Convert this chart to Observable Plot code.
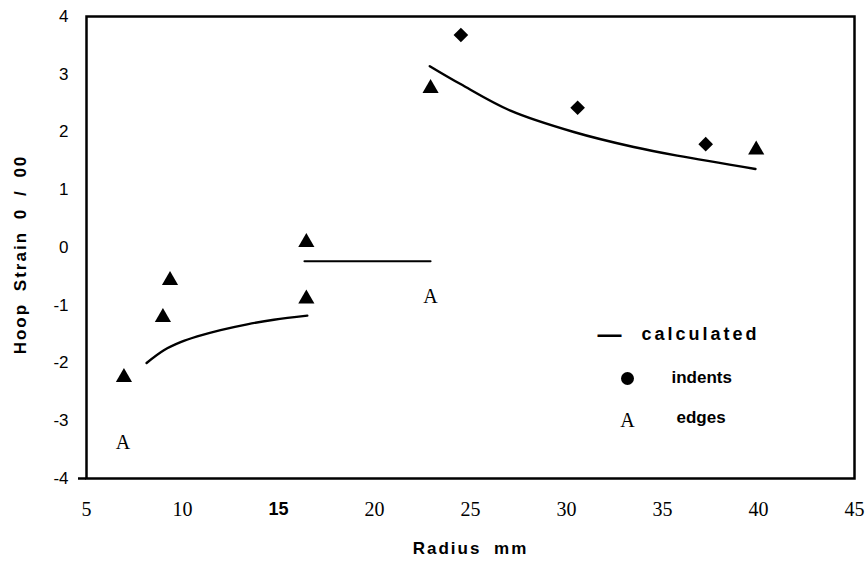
<!DOCTYPE html>
<html>
<head>
<meta charset="utf-8">
<script src="https://cdn.jsdelivr.net/npm/d3@7"></script>
<script src="https://cdn.jsdelivr.net/npm/@observablehq/plot@0.6"></script>
<style>
  body { margin: 0; background: #fff; }
  #chart svg { display: block; background: #fff; color: #000; }
</style>
</head>
<body>
<div id="chart"></div>
<script>
// Radius (mm) / hoop strain (0/00)
const edgesR = [6.95, 8.98, 9.35, 16.45, 16.45, 22.92, 39.88];
const edgesV = [-2.25, -1.21, -0.57, 0.09, -0.89, 2.755, 1.69];

const indentsR = [24.5, 30.58, 37.25];
const indentsV = [3.68, 2.42, 1.79];

// "A" glyph markers (edge points rendered as letters)
const edgesAR = [6.9, 22.92];
const edgesAV = [-3.38, -0.85];

// calculated curves
const calc1R = [8.13, 9.03, 9.9, 10.77, 11.98, 13.37, 14.76, 16.5];
const calc1V = [-2.0, -1.78, -1.64, -1.54, -1.43, -1.33, -1.25, -1.18];
const calc2R = [16.35, 22.92];
const calc2V = [-0.24, -0.24];
const calc3R = [22.88, 24.48, 27.08, 30.38, 33.5, 35.77, 39.84];
const calc3V = [3.14, 2.83, 2.37, 2.0, 1.74, 1.59, 1.36];

const xTicksSerif = [5, 10, 20, 25, 30, 35, 40, 45];
const xTicksBold = [15];
const yTicks = [-4, -3, -2, -1, 0, 1, 2, 3, 4];

const xLabel = "Radius mm";
const yLabel = "Hoop Strain 0 / 00";
const legendCalc = "calculated";
const legendIndents = "indents";
const legendEdges = "edges";

const zip = (xs, ys) => xs.map((x, i) => ({r: x, v: ys[i]}));
const edges = zip(edgesR, edgesV);
const indents = zip(indentsR, indentsV);
const edgesA = zip(edgesAR, edgesAV);
const calc1 = zip(calc1R, calc1V);
const calc2 = zip(calc2R, calc2V);
const calc3 = zip(calc3R, calc3V);

const SANS = "Liberation Sans, Arial, sans-serif";
const SERIF = "Liberation Serif, Times New Roman, serif";
const fmtInt = d => (d < 0 ? "-" : "") + Math.abs(d);

const legendText = (t, dx, dy, extra = {}) =>
  Plot.text([t], {text: d => d, frameAnchor: "top-left", dx, dy, lineAnchor: "middle", textAnchor: "start", fontSize: 17, fontWeight: "bold", fontFamily: SANS, ...extra});

const chart = Plot.plot({
  width: 867,
  height: 563,
  marginLeft: 86,
  marginRight: 13,
  marginTop: 16,
  marginBottom: 85,
  x: {domain: [5, 45]},
  y: {domain: [-4, 4]},
  marks: [
    Plot.frame({stroke: "#000", strokeWidth: 2.5}),
    Plot.axisX(xTicksSerif, {tickSize: 0, tickPadding: 23, fontSize: 20, fontFamily: SERIF, tickFormat: fmtInt, label: null}),
    Plot.axisX(xTicksBold, {tickSize: 0, tickPadding: 24, fontSize: 18, fontFamily: SANS, fontWeight: "bold", tickFormat: fmtInt, label: null}),
    Plot.axisY(yTicks, {tickSize: 0, tickPadding: 18, fontSize: 17, fontFamily: SANS, tickFormat: fmtInt, label: null}),
    Plot.axisY([-4], {tickSize: 8, strokeWidth: 2.5, tickFormat: () => "", label: null}),
    Plot.text([xLabel], {text: d => d, frameAnchor: "bottom", dy: 70, lineAnchor: "middle", textAnchor: "middle", fontSize: 17, fontWeight: "bold", fontFamily: SANS}),
    Plot.text([yLabel], {text: d => d, frameAnchor: "left", dx: -66, dy: 7, rotate: -90, lineAnchor: "middle", textAnchor: "middle", fontSize: 17, fontWeight: "bold", fontFamily: SANS}),
    Plot.line(calc1, {x: "r", y: "v", stroke: "#000", strokeWidth: 2.4, curve: "catmull-rom"}),
    Plot.line(calc2, {x: "r", y: "v", stroke: "#000", strokeWidth: 2}),
    Plot.line(calc3, {x: "r", y: "v", stroke: "#000", strokeWidth: 2.4, curve: "catmull-rom"}),
    Plot.dot(edges, {x: "r", y: "v", symbol: "triangle", r: 6, fill: "#000", stroke: null}),
    Plot.dot(indents, {x: "r", y: "v", symbol: "diamond2", r: 6.6, fill: "#000", stroke: null}),
    Plot.text(edgesA, {x: "r", y: "v", text: () => "A", fontSize: 20, fontFamily: SERIF, fill: "#000"}),
    // legend
    legendText("—", 523, 318, {textAnchor: "middle", fontSize: 24}),
    legendText(legendCalc, 555, 318, {fontSize: 18}),
    Plot.dot([0], {frameAnchor: "top-left", dx: 541, dy: 362, r: 6.5, fill: "#000", stroke: null}),
    legendText(legendIndents, 585, 361),
    legendText("A", 541, 404, {textAnchor: "middle", fontSize: 20, fontWeight: "normal", fontFamily: SERIF}),
    legendText(legendEdges, 590, 401)
  ]
});

// letter/word spacing, which Plot has no channel for
d3.select(chart).selectAll("text").each(function () {
  const t = this.textContent;
  if (t === xLabel) d3.select(this).attr("letter-spacing", 2).attr("word-spacing", 6);
  if (t === yLabel) d3.select(this).attr("letter-spacing", 2).attr("word-spacing", 5);
  if (t === legendCalc) d3.select(this).attr("letter-spacing", 3);
});
document.getElementById("chart").appendChild(chart);
</script>
</body>
</html>
